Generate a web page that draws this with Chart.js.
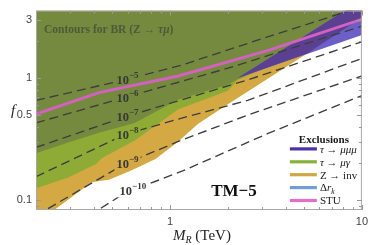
<!DOCTYPE html>
<html><head><meta charset="utf-8">
<script src="https://cdn.jsdelivr.net/npm/chart.js@4.4.1/dist/chart.umd.min.js"></script>
<style>html,body{margin:0;padding:0;background:#fff}#wrap{width:373px;height:245px}</style>
</head><body><div id="wrap"><canvas id="c" width="373" height="245"></canvas></div>
<script>
// ---------- axes ----------
const xRange = [0.2, 10];
const yRange = [0.083, 3.56];
const xTickLabels = [1, 10];
const yTickLabels = [0.1, 0.5, 1, 3];
const xMinorTicks = [0.3,0.4,0.5,0.6,0.7,0.8,0.9,2,3,4,5,6,7,8,9];
const yMinorTicks = [0.09,0.2,0.3,0.4,0.6,0.7,0.8,0.9,2];

// ---------- exclusion regions (lower edges, M_R in TeV, f) ----------
const zinvM = [0.2, 0.249, 0.387, 0.411, 0.480, 0.623, 0.840, 1.104, 1.401, 2.001, 5.185, 10];
const zinvF = [0.063, 0.083, 0.139, 0.142, 0.147, 0.174, 0.217, 0.302, 0.421, 0.608, 1.585, 3.133];
const muGammaM = [0.2, 0.2945, 0.411, 0.4416, 0.654, 1.104, 2.001, 2.254, 10];
const muGammaF = [0.125, 0.153, 0.198, 0.221, 0.308, 0.555, 0.787, 0.964, 2.655];
const drkM = [0.2, 0.2945, 0.426, 0.654, 1.104, 2.001, 2.254, 10];
const drkF = [0.242, 0.296, 0.356, 0.428, 0.667, 0.879, 0.982, 2.754];
const mu3UpperM = [2.254, 10];
const mu3UpperF = [1.0, 4.36];
const mu3LowerM = [2.254, 10];
const mu3LowerF = [1.0, 2.249];
const mu3OverZM = [2.254, 5.185, 10];
const mu3OverZF = [1.0, 1.585, 3.133];
const stuM = [0.2, 0.426, 1.104, 3.221, 10];
const stuF = [0.506, 0.759, 1.037, 1.675, 3.02];

// ---------- BR(Z -> tau mu) contours ----------
const c5M = [0.2, 0.426, 0.58, 1.144, 3.221, 8.05, 10.3];
const c5F = [0.655, 0.863, 0.964, 1.271, 2.168, 3.436, 3.9];
const c6M = [0.2, 0.58, 2.001, 10];
const c6F = [0.429, 0.692, 1.202, 2.655];
const c7M = [0.2, 0.58, 2.539, 10];
const c7F = [0.270, 0.479, 0.964, 1.977];
const c8M = [0.2, 0.58, 1.104, 2.539, 10];
const c8F = [0.1556, 0.344, 0.461, 0.655, 1.445];
const c9M = [0.2, 0.2295, 0.58, 1.104, 2.539, 10];
const c9F = [0.0745, 0.0847, 0.198, 0.302, 0.497, 1.038];
const c10M = [0.378, 0.58, 1.171, 3.221, 10];
const c10F = [0.0745, 0.114, 0.174, 0.35, 0.718];
const contourExp = ['\u22125','\u22126','\u22127','\u22128','\u22129','\u221210'];
const labelM = [0.60, 0.60, 0.60, 0.60, 0.60, 0.64];
const labelF = [0.964, 0.692, 0.479, 0.344, 0.198, 0.120];

const legendNames = ['τ → μμμ','τ → μγ','Z → inv','Δr_k','STU'];
const legendColors = ['#4b30a8','#86b33a','#d4a545','#6f9fd6','#e36fca'];

// ---------- build ----------
const pts = (M, F) => M.map((m, i) => ({x: m, y: F[i]}));
const NONE = 'rgba(0,0,0,0)';
const region = (label, M, F, color, fill, order) => ({label, data: pts(M, F), borderColor: NONE, borderWidth: 0,
  backgroundColor: color, fill, pointRadius: 0, order});
const contour = (M, F) => ({label: 'contour', data: pts(M, F), borderColor: '#3e3e3e', borderWidth: 1.35,
  borderDash: [9, 5], fill: false, pointRadius: 0, order: 1, isContour: true});

const datasets = [
  {label: 'STU', data: pts(stuM, stuF), borderColor: '#d262bf', borderWidth: 3, fill: false, pointRadius: 0, order: 0},
  contour(c5M, c5F), contour(c6M, c6F), contour(c7M, c7F), contour(c8M, c8F), contour(c9M, c9F), contour(c10M, c10F),
  region('mu3 upper', mu3UpperM, mu3UpperF, NONE, false, 4),          // 7
  region('τ → μμμ', mu3LowerM, mu3LowerF, '#6c5fc8', 7, 6),
  region('τ → μμμ & Z', mu3OverZM, mu3OverZF, '#5b3f91', 7, 5),
  region('Δr_k', drkM, drkF, '#758a3f', 'end', 7),
  region('τ → μγ', muGammaM, muGammaF, '#8dab35', 'end', 8),
  region('Z → inv', zinvM, zinvF, '#d4a843', 'end', 9)
];

const SERIF = "'Liberation Serif','DejaVu Serif',serif";
const SANS = "'Liberation Sans',Arial,sans-serif";
function fontOf(s){ return (s.i ? 'italic ' : '') + (s.b ? 'bold ' : '') + s.size + 'px ' + SERIF; }
function richWidth(ctx, segs){ let w = 0; for (const s of segs){ ctx.font = fontOf(s); w += ctx.measureText(s.t).width; } return w; }
function drawRich(ctx, segs, x, y){ for (const s of segs){ ctx.font = fontOf(s); ctx.fillText(s.t, x, y + (s.dy || 0)); x += ctx.measureText(s.t).width; } }

function labelSegs(i){ return [{t:'10', b:true, size:12.5}, {t: contourExp[i], b:true, size:9, dy:-5}]; }
function labelBoxes(chart){
  const ctx = chart.ctx, xs = chart.scales.x, ys = chart.scales.y, out = [];
  for (let i = 0; i < labelM.length; i++){
    const w = richWidth(ctx, labelSegs(i));
    const cx = xs.getPixelForValue(labelM[i]), cy = ys.getPixelForValue(labelF[i]);
    out.push({x: cx - w/2, y: cy, w});
  }
  return out;
}
function legendBox(a){ return {x: a.right - 75, y: a.top + 120, w: 74, h: 76}; }

const decor = {
  id: 'decor',
  beforeDatasetDraw(chart, args){
    const ds = chart.data.datasets[args.index];
    if (!ds.isContour) return;
    const ctx = chart.ctx, a = chart.chartArea;
    ctx.save();
    ctx.beginPath();
    ctx.rect(a.left, a.top, a.right - a.left, a.bottom - a.top);
    for (const b of labelBoxes(chart)) ctx.rect(b.x - 2, b.y - 10, b.w + 4, 17);
    const lb = legendBox(a);
    ctx.rect(lb.x, lb.y, lb.w, lb.h);
    ctx.clip('evenodd');
  },
  afterDatasetDraw(chart, args){
    const ds = chart.data.datasets[args.index];
    if (ds.isContour) chart.ctx.restore();
  },
  afterDraw(chart){
    const ctx = chart.ctx, a = chart.chartArea, xs = chart.scales.x, ys = chart.scales.y;
    ctx.save();
    // frame
    ctx.strokeStyle = '#a8a8a8'; ctx.lineWidth = 1;
    ctx.strokeRect(a.left + 0.5, a.top + 0.5, a.right - a.left - 1, a.bottom - a.top - 1);
    // ticks
    ctx.strokeStyle = '#9a9a9a';
    const tx = (v, len) => { const p = Math.round(xs.getPixelForValue(v)) + 0.5;
      ctx.beginPath(); ctx.moveTo(p, a.bottom); ctx.lineTo(p, a.bottom - len); ctx.moveTo(p, a.top); ctx.lineTo(p, a.top + len); ctx.stroke(); };
    const ty = (v, len) => { const p = Math.round(ys.getPixelForValue(v)) + 0.5;
      ctx.beginPath(); ctx.moveTo(a.left, p); ctx.lineTo(a.left + len, p); ctx.moveTo(a.right, p); ctx.lineTo(a.right - len, p); ctx.stroke(); };
    xTickLabels.forEach(v => tx(v, 5)); xMinorTicks.forEach(v => tx(v, 3));
    yTickLabels.forEach(v => ty(v, 5)); yMinorTicks.forEach(v => ty(v, 3));

    // contour labels
    ctx.fillStyle = '#383838'; ctx.textBaseline = 'middle';
    labelBoxes(chart).forEach((b, i) => drawRich(ctx, labelSegs(i), b.x, b.y + 1));

    ctx.textBaseline = 'alphabetic';
    // header text
    ctx.fillStyle = '#4e5a3a';
    drawRich(ctx, [{t:'Contours for BR (Z → ', b:true, size:11.5}, {t:'τμ', b:true, i:true, size:11.5}, {t:')', b:true, size:11.5}], a.left + 8, a.top + 22);
    // model label
    ctx.fillStyle = '#111';
    const tm = [{t:'TM\u22125', b:true, size:17}];
    drawRich(ctx, tm, 234 - richWidth(ctx, tm)/2, 196);

    // axis titles
    ctx.fillStyle = '#222';
    const xt = [{t:'M', i:true, size:15}, {t:'R', i:true, size:10, dy:3}, {t:' (TeV)', size:15}];
    drawRich(ctx, xt, (a.left + a.right)/2 + 3 - richWidth(ctx, xt)/2, 240);
    const yt = [{t:'f', i:true, size:15}];
    drawRich(ctx, yt, 13 - richWidth(ctx, yt)/2, (a.top + a.bottom)/2 + 5);

    // legend
    const lx = a.right - 72, ly = a.top + 128;
    ctx.fillStyle = '#1a1a1a';
    const head = [{t:'Exclusions', b:true, size:11}];
    drawRich(ctx, head, lx + 34 - richWidth(ctx, head)/2, ly + 4);
    const entries = [
      [{t:'τ', i:true, size:11}, {t:' → ', size:11}, {t:'μμμ', i:true, size:11}],
      [{t:'τ', i:true, size:11}, {t:' → ', size:11}, {t:'μγ', i:true, size:11}],
      [{t:'Z → inv', size:11}],
      [{t:'Δ', size:11}, {t:'r', i:true, size:11}, {t:'k', i:true, size:7.5, dy:2.5}],
      [{t:'STU', size:11}]
    ];
    entries.forEach((e, k) => {
      const y = ly + 10.3 + k * 12.9;
      ctx.strokeStyle = legendColors[k]; ctx.lineWidth = 3.2;
      ctx.beginPath(); ctx.moveTo(lx, y); ctx.lineTo(lx + 27, y); ctx.stroke();
      ctx.fillStyle = '#1a1a1a';
      drawRich(ctx, e, lx + 30, y + 3.8);
    });
    ctx.restore();
  }
};

new Chart(document.getElementById('c'), {
  type: 'line',
  data: {datasets},
  options: {
    responsive: false, animation: false, devicePixelRatio: 1,
    layout: {padding: {top: 6, right: 8, left: 0, bottom: 0}},
    plugins: {legend: {display: false}, tooltip: {enabled: false}, filler: {propagate: false}},
    elements: {line: {tension: 0}},
    scales: {
      x: {type: 'logarithmic', min: xRange[0], max: xRange[1],
        grid: {display: false, drawTicks: false}, border: {display: false},
        ticks: {font: {family: SANS, size: 11}, color: '#444', padding: 5, maxRotation: 0, autoSkip: false, callback: v => String(v)},
        afterBuildTicks: s => { s.ticks = xTickLabels.map(v => ({value: v})); },
        afterFit: s => { s.height = 35; }},
      y: {type: 'logarithmic', min: yRange[0], max: yRange[1],
        grid: {display: false, drawTicks: false}, border: {display: false},
        ticks: {font: {family: SANS, size: 11}, color: '#444', padding: 4, autoSkip: false, callback: v => String(v)},
        afterBuildTicks: s => { s.ticks = yTickLabels.map(v => ({value: v})); },
        afterFit: s => { s.width = 36; }}
    }
  },
  plugins: [decor]
});
</script></body></html>
